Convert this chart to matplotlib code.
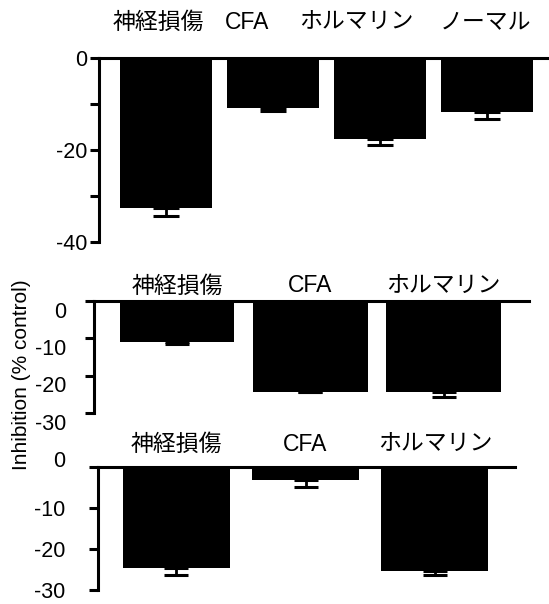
import matplotlib
matplotlib.use('Agg')
import matplotlib.pyplot as plt
import matplotlib.transforms as mtransforms

plt.rcParams['font.family'] = ['Liberation Sans', 'Noto Sans CJK JP']

# panel 1: four groups
labels1 = ['神経損傷', 'CFA', 'ホルマリン', 'ノーマル']
means1 = [-32.6, -10.8, -17.5, -11.7]
errs1 = [1.8, 0.8, 1.5, 1.5]
yticks1 = [0, -10, -20, -30, -40]
yticklabels1 = ['0', '', '-20', '', '-40']

# panel 2
labels2 = ['神経損傷', 'CFA', 'ホルマリン']
means2 = [-11.0, -24.3, -24.3]
errs2 = [0.7, 0.2, 1.3]

# panel 3
labels3 = ['神経損傷', 'CFA', 'ホルマリン']
means3 = [-24.7, -3.0, -25.3]
errs3 = [1.6, 1.7, 1.0]

yticks23 = [0, -10, -20, -30]
yticklabels23 = ['0', '-10', '-20', '-30']

W, H = 549, 604
fig = plt.figure(figsize=(W / 100, H / 100), dpi=100)


def px_axes(x0, y0, x1, y1):
    # pixel box (top-left origin) -> figure fraction
    return fig.add_axes([x0 / W, 1 - y1 / H, (x1 - x0) / W, (y1 - y0) / H])


def shift(t, dy_px):
    t.set_transform(t.get_transform() +
                    mtransforms.ScaledTranslation(0, dy_px / 100, fig.dpi_scale_trans))


def panel(ax, labels, means, errs, width, xlim, ylim, yticks, yticklabels,
          lab_off, tick_pad, lab_pos=None, cap=9):
    x = list(range(len(means)))
    ax.bar(x, means, width=width, color='black', zorder=2)
    ax.errorbar(x, means, yerr=[[e for e in errs], [0] * len(errs)], fmt='none',
                ecolor='black', elinewidth=2, capsize=cap, capthick=2.2, zorder=1)
    ax.set_xlim(*xlim)
    ax.set_ylim(*ylim)
    ax.set_xticks([])
    ax.set_yticks(yticks)
    ax.set_yticklabels(yticklabels, fontsize=15.5)
    for s in ['right', 'bottom']:
        ax.spines[s].set_visible(False)
    ax.spines['left'].set_linewidth(2.2)
    ax.spines['top'].set_linewidth(2.2)
    ax.tick_params(axis='y', length=6.5, width=2.2, pad=tick_pad)
    if lab_pos is None:
        lab_pos = x
    for p, lab in zip(lab_pos, labels):
        ax.annotate(lab, xy=(p, 1), xycoords=('data', 'axes fraction'),
                    xytext=(0, lab_off), textcoords='offset points',
                    ha='center', va='center', fontsize=16.5)
    ax.patch.set_visible(False)


ax1 = px_axes(98.7, 58.3, 560, 241.7)
panel(ax1, labels1, means1, errs1, 0.86, (-0.63, 3.68), (-40, 0),
      yticks1, yticklabels1, 26, 2, lab_pos=[-0.07, 0.76, 1.78, 2.98], cap=9.3)

ax2 = px_axes(93.8, 300.5, 529, 413)
panel(ax2, labels2, means2, errs2, 0.86, (-0.623, 2.64), (-30, 0),
      yticks23, yticklabels23, 10.5, 13, cap=8.3)
for t in ax2.get_yticklabels():
    shift(t, -9)

ax3 = px_axes(98, 467.3, 515, 590)
panel(ax3, labels3, means3, errs3, 0.83, (-0.605, 2.62), (-30, 0),
      yticks23, yticklabels23, 16.5, 17, cap=8.8)
shift(ax3.get_yticklabels()[0], 8)

fig.text(22 / W, 1 - 375 / H, 'Inhibition (% control)', rotation=90,
         ha='center', va='center', fontsize=15)

fig.savefig('out.png', dpi=100)
